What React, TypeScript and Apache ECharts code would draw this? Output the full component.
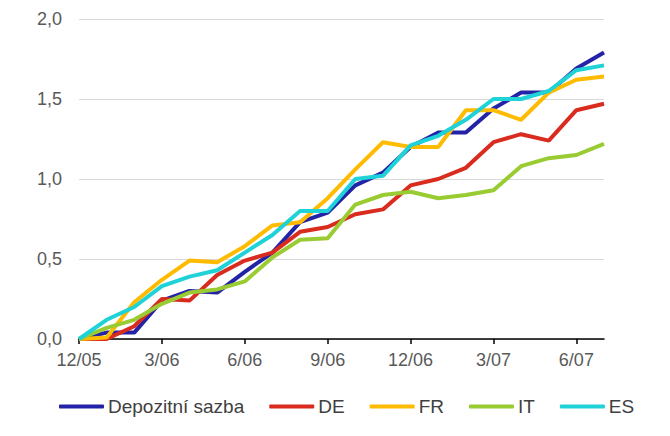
import React, { useEffect, useRef } from "react";
import * as echarts from "echarts";

const categories = [
  "12/05", "1/06", "2/06", "3/06", "4/06", "5/06", "6/06", "7/06", "8/06", "9/06",
  "10/06", "11/06", "12/06", "1/07", "2/07", "3/07", "4/07", "5/07", "6/07", "7/07",
];

const depozitni = [0, 0.04, 0.04, 0.24, 0.3, 0.29, 0.42, 0.54, 0.73, 0.79, 0.96, 1.04, 1.2, 1.29, 1.29, 1.44, 1.54, 1.54, 1.69, 1.79];
const de = [0, 0.0, 0.08, 0.25, 0.24, 0.4, 0.49, 0.54, 0.67, 0.7, 0.78, 0.81, 0.96, 1.0, 1.07, 1.23, 1.28, 1.24, 1.43, 1.47];
const fr = [0, 0.01, 0.23, 0.37, 0.49, 0.48, 0.58, 0.71, 0.73, 0.88, 1.06, 1.23, 1.2, 1.2, 1.43, 1.43, 1.37, 1.54, 1.62, 1.64];
const it = [0, 0.07, 0.12, 0.22, 0.29, 0.31, 0.36, 0.51, 0.62, 0.63, 0.84, 0.9, 0.92, 0.88, 0.9, 0.93, 1.08, 1.13, 1.15, 1.22];
const es = [0, 0.12, 0.2, 0.33, 0.39, 0.43, 0.54, 0.65, 0.8, 0.8, 1.0, 1.02, 1.21, 1.27, 1.37, 1.5, 1.5, 1.55, 1.68, 1.71];

const seriesNames = ["Depozitní sazba", "DE", "FR", "IT", "ES"];
const seriesData = [depozitni, de, fr, it, es];
const colors = ["#2323a8", "#d92b1e", "#ffbb00", "#99cc33", "#1fd2d8"];

export default function App() {
  const ref = useRef<HTMLDivElement>(null);
  useEffect(() => {
    if (!ref.current) return;
    const chart = echarts.init(ref.current, null, { renderer: "svg" });
    chart.setOption({
      animation: false,
      backgroundColor: "#ffffff",
      textStyle: { fontFamily: "'Liberation Sans', Arial, sans-serif" },
      grid: { left: 79, right: 66, top: 19, bottom: 97, containLabel: false },
      legend: {
        left: 54,
        top: 392,
        itemWidth: 45,
        itemHeight: 4,
        itemGap: 25,
        icon: "roundRect",
        textStyle: { fontSize: 19, color: "#404040", padding: [0, 0, 0, -1] },
        data: seriesNames,
      },
      xAxis: {
        type: "category",
        data: categories,
        boundaryGap: false,
        axisLine: { lineStyle: { color: "#000000", width: 1.5 } },
        axisTick: { show: true, interval: 2, length: 5, lineStyle: { color: "#000000", width: 1.5 } },
        axisLabel: { interval: 2, fontSize: 18, color: "#595959", margin: 12 },
        splitLine: { show: false },
      },
      yAxis: {
        type: "value",
        min: 0,
        max: 2,
        interval: 0.5,
        axisLine: { show: false },
        axisTick: { show: false },
        axisLabel: {
          fontSize: 18,
          color: "#595959",
          margin: 17,
          formatter: (v: number) => v.toFixed(1).replace(".", ","),
        },
        splitLine: { lineStyle: { color: "#d9d9d9", width: 1 } },
      },
      series: seriesNames.map((name, i) => ({
        name,
        type: "line",
        data: seriesData[i],
        symbol: "none",
        color: colors[i],
        lineStyle: { width: 4, color: colors[i] },
      })),
    });
    return () => chart.dispose();
  }, []);
  return (
    <div
      ref={ref}
      style={{ position: "fixed", left: 0, top: 0, width: 670, height: 436 }}
    />
  );
}
